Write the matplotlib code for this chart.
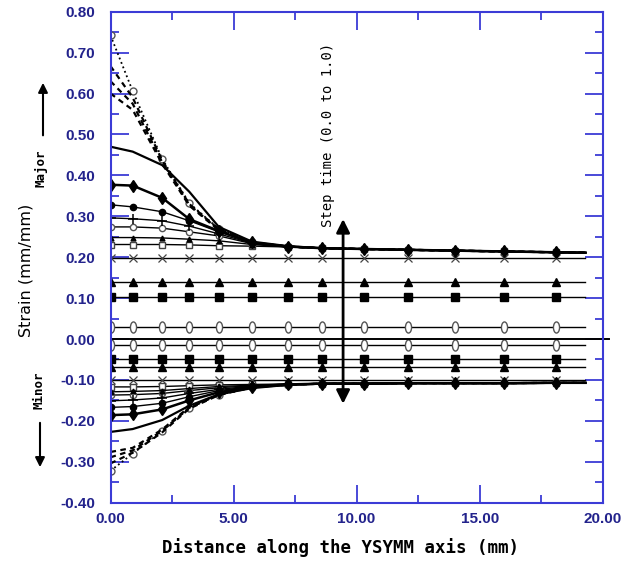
import numpy as np
import matplotlib
matplotlib.use("Agg")
import matplotlib.pyplot as plt
from matplotlib.path import Path
from matplotlib.transforms import blended_transform_factory

# mesh node positions along the YSYMM axis (mm)
x_nodes = [0, 0.9, 2.1, 3.2, 4.4, 5.75, 7.2, 8.6, 10.3, 12.1, 14.0, 16.0, 18.1, 19.3]

major_tail = [0.222, 0.220, 0.218, 0.216, 0.214, 0.212, 0.211]
minor_tail = [-0.109, -0.109, -0.108, -0.108, -0.108, -0.107, -0.107]

# major strain curves
major_dotted = [0.742, 0.606, 0.440, 0.332, 0.269, 0.236, 0.226] + major_tail
major_dash1 = [0.667, 0.590, 0.436, 0.330, 0.268, 0.236, 0.226] + major_tail
major_dash2 = [0.630, 0.575, 0.432, 0.328, 0.267, 0.235, 0.226] + major_tail
major_dash3 = [0.600, 0.560, 0.428, 0.326, 0.266, 0.235, 0.226] + major_tail
major_plain = [0.470, 0.458, 0.425, 0.360, 0.274, 0.238, 0.227] + major_tail
major_diamond = [0.377, 0.375, 0.345, 0.293, 0.264, 0.236, 0.226] + major_tail
major_fcircle = [0.328, 0.323, 0.311, 0.289, 0.262, 0.235, 0.226] + major_tail
major_plus = [0.296, 0.294, 0.289, 0.276, 0.257, 0.234, 0.226] + major_tail
major_ocircle = [0.274, 0.274, 0.271, 0.262, 0.252, 0.233, 0.226] + major_tail
major_tri = [0.248, 0.248, 0.247, 0.244, 0.240, 0.231, 0.225] + major_tail
major_square = [0.231, 0.231, 0.231, 0.230, 0.228, 0.227, 0.225] + major_tail

# minor strain curves
minor_dotted = [-0.322, -0.280, -0.225, -0.168, -0.136, -0.118, -0.112] + minor_tail
minor_dash1 = [-0.276, -0.266, -0.221, -0.166, -0.135, -0.118, -0.112] + minor_tail
minor_dash2 = [-0.289, -0.272, -0.224, -0.168, -0.136, -0.118, -0.112] + minor_tail
minor_dash3 = [-0.304, -0.278, -0.228, -0.170, -0.137, -0.118, -0.112] + minor_tail
minor_plain = [-0.227, -0.220, -0.198, -0.163, -0.135, -0.120, -0.112] + minor_tail
minor_diamond = [-0.186, -0.184, -0.172, -0.150, -0.130, -0.117, -0.111] + minor_tail
minor_fcircle = [-0.167, -0.165, -0.157, -0.141, -0.126, -0.116, -0.111] + minor_tail
minor_plus = [-0.151, -0.149, -0.144, -0.133, -0.123, -0.115, -0.111] + minor_tail
minor_ocircle = [-0.137, -0.136, -0.133, -0.126, -0.119, -0.114, -0.110] + minor_tail
minor_tri = [-0.129, -0.128, -0.126, -0.121, -0.116, -0.113, -0.110] + minor_tail
minor_square = [-0.117, -0.117, -0.116, -0.114, -0.112, -0.111, -0.110] + minor_tail

# constant strain levels
flat_levels = [0.199, 0.139, 0.103, 0.030, -0.015, -0.048, -0.068, -0.100]
zero_level = 0.0

x_ticks = [0, 5, 10, 15, 20]
x_ticklabels = ["0.00", "5.00", "10.00", "15.00", "20.00"]
y_ticks = [-0.4, -0.3, -0.2, -0.1, 0.0, 0.1, 0.2, 0.3, 0.4, 0.5, 0.6, 0.7, 0.8]
y_ticklabels = ["-0.40", "-0.30", "-0.20", "-0.10", "0.00", "0.10", "0.20",
                "0.30", "0.40", "0.50", "0.60", "0.70", "0.80"]

frame_col = "#3b3bd6"
label_col = "#23238c"

circ = Path.unit_circle()
ellipse = Path(circ.vertices * [0.55, 1.0], circ.codes)

fig = plt.figure(figsize=(6.22, 5.67), dpi=100)
ax = fig.add_axes([0.1777, 0.1134, 0.7913, 0.866])

marks = list(range(13))

def curve(y, marker=None, ms=5, ls="-", lw=1.0, mfc="black", mec="black", mew=1.0):
    ax.plot(x_nodes, y, color="black", ls=ls, lw=lw, marker=marker, ms=ms,
            mfc=mfc, mec=mec, mew=mew, markevery=marks)

# flat lines
flat_markers = ["x", "^", "s", ellipse, ellipse, "s", "^", "x"]
for lev, mk in zip(flat_levels, flat_markers):
    yy = [lev] * len(x_nodes)
    if mk is ellipse:
        curve(yy, mk, ms=8, mfc="white", mec="#555555", mew=1.0)
    elif mk == "x":
        curve(yy, mk, ms=5.5, mew=0.9, mec="#444444")
    else:
        curve(yy, mk, ms=5.5)
ax.axhline(zero_level, xmin=0, xmax=1.012, color="black", lw=1.4, clip_on=False)

for grp in [(major_square, major_tri, major_ocircle, major_plus, major_fcircle,
             major_diamond, major_plain, major_dash1, major_dash2, major_dash3, major_dotted),
            (minor_square, minor_tri, minor_ocircle, minor_plus, minor_fcircle,
             minor_diamond, minor_plain, minor_dash1, minor_dash2, minor_dash3, minor_dotted)]:
    sq, tr, oc, pl, fc, di, pn, d1, d2, d3, dt = grp
    curve(dt, "o", ms=5, ls=":", lw=1.3, mfc="white", mec="#555555")
    for d in (d1, d2, d3):
        curve(d, None, ls=(0, (2.5, 2)), lw=1.6)
    curve(sq, "s", ms=5, mfc="white", mec="#444444")
    curve(oc, "o", ms=4.5, mfc="white", mec="#555555")
    curve(tr, "^", ms=3.5)
    curve(pl, "+", ms=7, mew=1.1)
    curve(pn, None, lw=1.6)
    curve(fc, "o", ms=4.5)
    curve(di, "d", ms=6.5, lw=1.8)

ax.set_xlim(0, 20)
ax.set_ylim(-0.4, 0.8)
ax.set_xticks(x_ticks)
ax.set_xticklabels(x_ticklabels)
ax.set_xticks(np.arange(0, 20.1, 2.5), minor=True)
ax.set_yticks(y_ticks)
ax.set_yticklabels(y_ticklabels)
ax.set_yticks(np.arange(-0.4, 0.81, 0.05), minor=True)
ax.tick_params(which="both", direction="in", top=True, right=True,
               color=frame_col, width=1.3, labelcolor=label_col)
ax.tick_params(which="major", length=13)
ax.tick_params(which="minor", length=6)
ax.tick_params(axis="y", pad=11)
ax.tick_params(axis="x", pad=7)
for lab in ax.get_xticklabels() + ax.get_yticklabels():
    lab.set_fontfamily("Liberation Sans")
    lab.set_fontweight("bold")
    lab.set_fontsize(11)
for sp in ax.spines.values():
    sp.set_color(frame_col)
    sp.set_linewidth(1.5)

# step time arrow
ax.annotate("", xy=(9.45, 0.30), xytext=(9.45, -0.165),
            arrowprops=dict(arrowstyle="<|-|>", lw=2, color="black", mutation_scale=20))
ax.text(8.82, 0.50, "Step time (0.0 to 1.0)", rotation=90, ha="center", va="center",
        family="DejaVu Sans Mono", fontsize=10)

# Major / Minor indicators on the left
tr = blended_transform_factory(fig.transFigure, ax.transData)
ax.annotate("", xy=(43 / 622, 0.633), xytext=(43 / 622, 0.491), xycoords=tr, textcoords=tr,
            arrowprops=dict(arrowstyle="-|>", lw=1.5, color="black", mutation_scale=14))
ax.text(41 / 622, 0.418, "Major", transform=tr, rotation=90, ha="center", va="center",
        family="DejaVu Sans Mono", fontweight="bold", fontsize=9)
ax.annotate("", xy=(40 / 622, -0.320), xytext=(40 / 622, -0.198), xycoords=tr, textcoords=tr,
            arrowprops=dict(arrowstyle="-|>", lw=1.5, color="black", mutation_scale=14))
ax.text(39 / 622, -0.125, "Minor", transform=tr, rotation=90, ha="center", va="center",
        family="DejaVu Sans Mono", fontweight="bold", fontsize=9)

ax.text(26 / 622, 0.168, "Strain (mm/mm)", transform=tr, rotation=90, ha="center",
        va="center", family="DejaVu Sans", fontsize=11.5)
fig.text(340 / 622, 1 - 548 / 567, "Distance along the YSYMM axis (mm)", ha="center",
         va="center", family="DejaVu Sans Mono", fontweight="bold", fontsize=12.5)

fig.savefig("out.png", dpi=100)
